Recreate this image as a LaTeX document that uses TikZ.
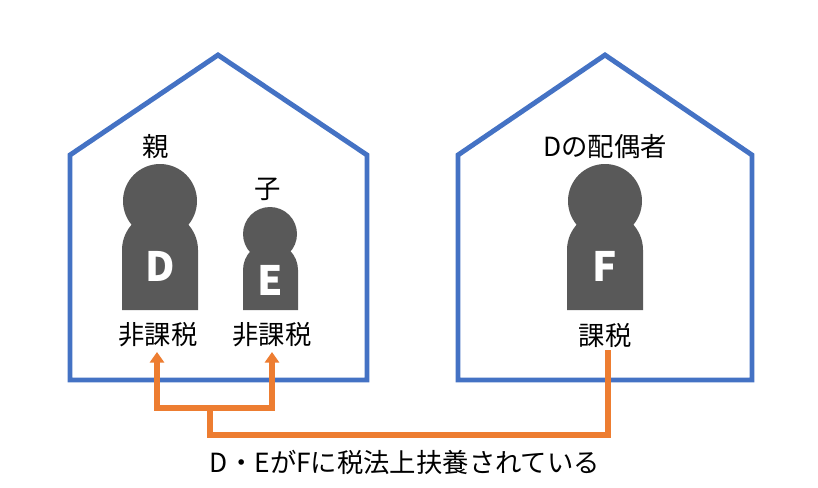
\documentclass[tikz,border=0pt]{standalone}
\usepackage{fontspec}
\setmainfont{Noto Sans CJK JP}
\usetikzlibrary{arrows.meta}
\definecolor{housec}{HTML}{4472C4}
\definecolor{linec}{HTML}{ED7D31}
\definecolor{personc}{HTML}{595959}
\tikzset{
  house/.style={draw=housec,line width=2.8pt},
  person/.style={fill=personc},
  lbl/.style={font=\fontsize{15}{17}\selectfont,inner sep=1pt},
  letter/.style={text=white,font=\fontsize{23}{24}\selectfont\bfseries},
  link/.style={draw=linec,line width=3.4pt},
}
\begin{document}
\begin{tikzpicture}[x=0.02cm,y=-0.02cm]
\useasboundingbox (0,0) rectangle (818,487);

% houses
\draw[house] (70,380) -- (70,155) -- (218,55) -- (367,155) -- (367,380) -- cycle;
\draw[house] (458,380) -- (458,155) -- (605,55) -- (752,155) -- (752,380) -- cycle;

% people
\fill[person] (122,310) -- (122,250) arc[start angle=180,end angle=360,radius=38] -- (198,310) -- cycle;
\fill[person] (160,201) circle (37);
\fill[person] (243,310) -- (243,270) arc[start angle=180,end angle=360,radius=27.5] -- (298,310) -- cycle;
\fill[person] (270,234) circle (27);
\fill[person] (567,310) -- (567,250) arc[start angle=180,end angle=360,radius=38] -- (643,310) -- cycle;
\fill[person] (605,201) circle (37);

\node[letter] (d) at (160,266) {D};
\node[letter] (e) at (270,280) {E};
\node[letter] (f) at (605,266) {F};

% labels
\node[lbl] (oya) at (156,147) {親};
\node[lbl] (ko) at (268,189) {子};
\node[lbl] (haigu) at (605,147) {Dの配偶者};
\node[lbl] (hd) at (158,335) {非課税};
\node[lbl] (he) at (272,335) {非課税};
\node[lbl] (kf) at (605,335) {課税};
\node[lbl] (note) at (405,462) {D・EがFに税法上扶養されている};

% support line
\coordinate (fa) at (608,350);
\coordinate (fb) at (608,435);
\coordinate (fc) at (210,435);
\coordinate (fm) at (210,408);
\coordinate (bl) at (157,408);
\coordinate (br) at (272,408);
\draw[link] (fa) -- (fb) -- (fc) -- (fm);
\draw[link,-{Triangle[length=6pt,width=8pt]}] (fm) -- (bl) -- (157,352);
\draw[link,-{Triangle[length=6pt,width=8pt]}] (fm) -- (br) -- (272,352);
\end{tikzpicture}
\end{document}
